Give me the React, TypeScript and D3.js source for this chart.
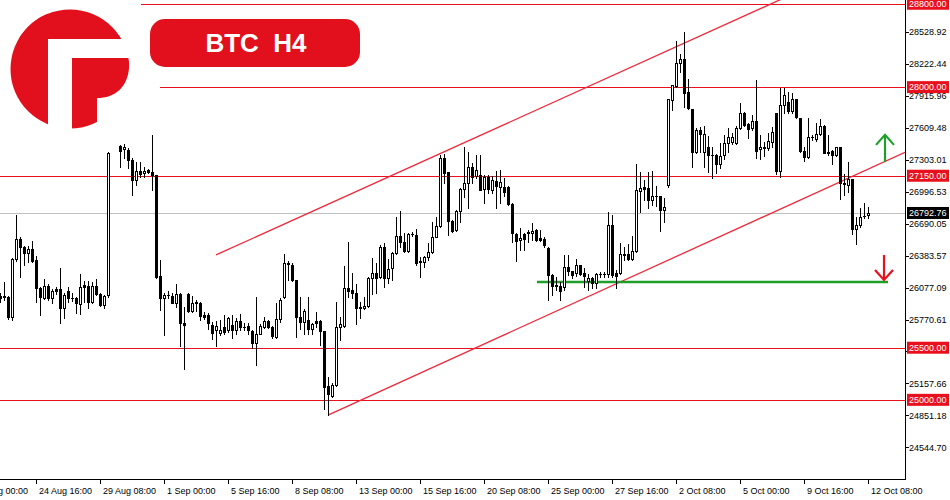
import React from 'react';
import * as d3 from 'd3';

// ---- OHLC data (BTC, H4 bars); null = missing bar ----
const opens: (number | null)[] = [
  25996, 25987, 25987, 25795, 26352, 26544, 26467, 26409, 26448, 26342,
  26073, 25977, 26092, 25977, 26064, 26064, 25881, 26044, 25977, 25977,
  25920, 26102, 26092, 25939, 26092, 26016, 25910, 26006, null, null,
  27436, 27408, 27398, 27302, 27110, 27196, 27177, 27206, 27187, 27158,
  26188, 25977, 26006, 25996, 25929, 26016, 25737, 26016, 25852, 25939,
  25929, 25814, 25814, 25718, 25670, 25641, 25699, 25670, 25718, 25670,
  25756, 25699, 25708, 25660, 25545, 25632, 25699, 25756, 25699, 25603,
  25776, 25987, 26304, 26294, 26150, 25795, 25747, 25766, 25680, 25756,
  25756, 25660, 25132, 25036, 25142, 25699, 25708, 26073, 26054, 26025,
  25891, 25881, 25900, 26169, 26217, 26179, 26467, 26169, 26265, 26409,
  26572, 26515, 26428, 26592, 26582, 26323, 26323, 26371, 26419, 26563,
  26668, 27321, 27187, 26716, 26630, 26812, 27024, 27081, 27235, 27148,
  27158, 27024, 27139, 27014, 27100, 27043, 27043, 27043, 26880, 26592,
  26534, 26592, 26601, 26601, 26630, 26553, 26544, 26457, 26198, 26102,
  26092, 26083, 26275, 26236, 26217, 26294, 26217, 26140, 26169, 26121,
  26208, 26208, 26208, 26678, 26217, 26217, 26390, 26400, 26352, 26428,
  27004, 27043, 27033, 26918, 26956, 26956, 26822, 27062, 27878, 28012,
  28233, 28272, 27955, 27792, 27379, 27590, 27379, 27427, 27350, 27350,
  27264, 27350, 27465, 27475, 27465, 27609, 27753, 27648, 27609, 27676,
  27408, 27417, 27417, 27475, 27753, 27196, 27830, 27859, 27772, 27888,
  27705, 27388, 27331, 27523, 27504, 27552, 27628, 27379, 27388, 27350,
  27427, 27081, 27062, 27120, 26640, 26678, 26764, 26774,
];
const highs: (number | null)[] = [
  26025, 26131, 25996, 26361, 26774, 26563, 26476, 26476, 26524, 26380,
  26083, 26160, 26112, 26064, 26083, 26265, 26025, 26083, 26025, 25987,
  26208, 26140, 26140, 26131, 26160, 26025, 26006, 27379, null, null,
  27446, 27456, 27417, 27321, 27283, 27283, 27235, 27216, 27542, 27158,
  26342, 26025, 26044, 26025, 26112, 26025, 25891, 26025, 25996, 25958,
  25939, 25843, 25833, 25747, 25756, 25766, 25814, 25795, 25814, 25785,
  25824, 25737, 25737, 25670, 25987, 25728, 25795, 25766, 25708, 25929,
  25977, 26400, 26332, 26313, 26150, 25987, 25872, 25987, 25737, 25843,
  25766, 25660, 25219, 25161, 25939, 25795, 26284, 26515, 26217, 26112,
  25939, 25987, 26179, 26361, 26313, 26486, 26505, 26352, 26419, 26755,
  26812, 26601, 26601, 26611, 26640, 26371, 26380, 26505, 26707, 26755,
  27350, 27360, 27187, 26726, 26822, 27033, 27427, 27379, 27273, 27350,
  27350, 27158, 27158, 27148, 27196, 27206, 27129, 27052, 26889, 26601,
  26649, 26601, 26630, 26697, 26640, 26630, 26563, 26467, 26208, 26179,
  26131, 26390, 26390, 26236, 26352, 26294, 26265, 26208, 26179, 26217,
  26227, 26227, 26803, 26774, 26246, 26505, 26467, 26496, 26572, 27264,
  27187, 27110, 27187, 27196, 27052, 26956, 26937, 27888, 28022, 28444,
  28320, 28531, 28080, 27792, 27609, 27619, 27628, 27532, 27427, 27360,
  27465, 27542, 27609, 27561, 27628, 27849, 27763, 27657, 27734, 28070,
  27542, 27475, 27561, 27619, 27753, 27993, 27993, 27955, 27945, 27888,
  27705, 27427, 27705, 27542, 27657, 27696, 27638, 27542, 27398, 27427,
  27427, 27168, 27283, 27120, 26755, 26841, 26889, 26851,
];
const lows: (number | null)[] = [
  25939, 25958, 25776, 25766, 26332, 26179, 26294, 26323, 26323, 25939,
  25814, 25968, 25958, 25929, 26016, 25737, 25785, 25939, 25948, 25833,
  25824, 25939, 25881, 25929, 26006, 25900, 25881, 25987, null, null,
  27235, 27321, 27225, 26966, 27062, 27139, 27139, 27177, 27014, 26169,
  25862, 25622, 25977, 25929, 25891, 25516, 25296, 25843, 25843, 25852,
  25766, 25776, 25680, 25584, 25516, 25622, 25632, 25651, 25593, 25632,
  25670, 25670, 25632, 25497, 25334, 25628, 25689, 25689, 25593, 25598,
  25747, 25977, 26150, 26140, 25603, 25680, 25632, 25632, 25632, 25699,
  25526, 24912, 24854, 25027, 25132, 25574, 25699, 25987, 25977, 25728,
  25785, 25872, 25891, 26016, 26025, 26169, 26083, 26121, 26150, 26400,
  26467, 26419, 26419, 26572, 26294, 26179, 26275, 26342, 26409, 26559,
  26659, 27081, 26582, 26611, 26620, 26707, 26947, 26841, 27081, 27129,
  27014, 26889, 26985, 26985, 26841, 26889, 26956, 26870, 26515, 26332,
  26438, 26438, 26515, 26534, 26524, 26524, 26467, 25958, 26006, 26054,
  25958, 26054, 26198, 26169, 26188, 26198, 26083, 26054, 26073, 26073,
  26179, 26179, 26179, 26179, 26073, 26208, 26342, 26342, 26342, 26419,
  26803, 26918, 26841, 26870, 26860, 26620, 26707, 27043, 27782, 28003,
  28147, 27811, 27792, 27235, 27369, 27379, 27235, 27187, 27129, 27177,
  27225, 27312, 27379, 27456, 27456, 27600, 27628, 27513, 27590, 27321,
  27312, 27340, 27398, 27427, 27168, 27139, 27753, 27753, 27753, 27705,
  27379, 27292, 27321, 27494, 27484, 27542, 27369, 27350, 27264, 27340,
  26928, 26966, 26995, 26592, 26496, 26659, 26745, 26745,
];
const closes: (number | null)[] = [
  25977, 25996, 25795, 26352, 26544, 26467, 26409, 26448, 26332, 26073,
  25987, 26092, 25977, 26044, 26044, 25881, 26006, 25977, 25973, 25929,
  26083, 26083, 25939, 26092, 26016, 25910, 25996, 27369, null, null,
  27388, 27427, 27302, 27110, 27196, 27168, 27196, 27187, 27158, 26179,
  25977, 26006, 26002, 25929, 26016, 25737, 25718, 25852, 25929, 25929,
  25804, 25795, 25737, 25641, 25708, 25670, 25651, 25785, 25670, 25756,
  25699, 25695, 25670, 25545, 25632, 25708, 25756, 25699, 25612, 25776,
  25958, 26313, 26313, 26150, 25795, 25747, 25852, 25680, 25728, 25737,
  25660, 25123, 25056, 25142, 25699, 25728, 26073, 26044, 26025, 25881,
  25881, 25900, 26169, 26217, 26169, 26467, 26169, 26256, 26409, 26572,
  26515, 26428, 26592, 26588, 26313, 26332, 26371, 26419, 26563, 26668,
  27321, 27177, 26716, 26620, 26812, 27024, 27081, 27235, 27139, 27206,
  27014, 27139, 27024, 27110, 27052, 27091, 26995, 26880, 26601, 26524,
  26553, 26544, 26611, 26620, 26534, 26534, 26486, 26198, 26092, 26092,
  26044, 26275, 26236, 26198, 26294, 26208, 26188, 26169, 26121, 26208,
  26204, 26212, 26678, 26198, 26188, 26400, 26400, 26352, 26428, 27014,
  27033, 27024, 26918, 26956, 26952, 26822, 26851, 27888, 28022, 28233,
  28272, 27945, 27801, 27379, 27590, 27552, 27552, 27350, 27346, 27264,
  27340, 27465, 27523, 27523, 27609, 27753, 27638, 27600, 27676, 27388,
  27427, 27427, 27484, 27571, 27196, 27830, 27926, 27772, 27888, 27715,
  27388, 27331, 27523, 27519, 27552, 27628, 27369, 27369, 27350, 27427,
  27081, 27072, 27120, 26640, 26678, 26755, 26768, 26792.76,
];

// ---- axes ----
const timeLabels = [
  '22 Aug 00:00', '24 Aug 16:00', '29 Aug 08:00', '1 Sep 00:00', '5 Sep 16:00',
  '8 Sep 08:00', '13 Sep 00:00', '15 Sep 16:00', '20 Sep 08:00', '25 Sep 00:00',
  '27 Sep 16:00', '2 Oct 08:00', '5 Oct 00:00', '9 Oct 16:00', '12 Oct 08:00',
];
const timeLabelBars = [-7, 9, 25, 41, 57, 73, 89, 105, 121, 137, 153, 169, 185, 201, 217];
const priceTicks = [
  '24544.70', '24851.18', '25157.66', '25464.14', '25770.61', '26077.09', '26383.57',
  '26690.05', '26996.53', '27303.01', '27609.48', '27915.96', '28222.44', '28528.92',
];

// ---- drawn objects ----
const levelPrices = [28800, 28000, 27150, 25500, 25000];
const levelStartBars = [35.25, 40, -1, -1, -1];
const currentPrice = 26792.76;
const supportPrice = 26131;
const supportBars = [134.25, 222];
const upperChannel = [{ bar: 54, price: 26390 }, { bar: 195, price: 28838 }];
const lowerChannel = [{ bar: 82, price: 24854 }, { bar: 217, price: 27213 }];
const upArrow = { bar: 221.25, from: 27283, to: 27542 };
const downArrow = { bar: 221, from: 26390, to: 26150 };

const RED = '#e8101c';
const BRAND = '#e20f1c';
const FONT = '"Liberation Sans", Arial, sans-serif';

export default function App() {
  const W = 950, H = 500;
  const plotRight = 905, plotBottom = 479;
  const x = d3.scaleLinear().domain([0, 217]).range([0, 868]);
  const y = d3.scaleLinear().domain([24544.70, 28528.92]).range([447.3, 32]);

  const candles: React.ReactNode[] = [];
  opens.forEach((o, i) => {
    const h = highs[i], l = lows[i], c = closes[i];
    if (o == null || h == null || l == null || c == null) return;
    const cx = Math.round(x(i));
    const yo = Math.round(y(o)), yc = Math.round(y(c));
    const yh = Math.round(y(h)), yl = Math.round(y(l));
    const top = Math.min(yo, yc), bot = Math.max(yo, yc);
    const bull = c > o;
    candles.push(
      <g key={i}>
        <rect x={cx} y={yh} width={1} height={yl - yh + 1} fill="#000" />
        <rect x={cx - 1} y={top} width={3} height={bot - top + 1} fill="#000" />
        {bull && bot - top - 1 > 0 && (
          <rect x={cx} y={top + 1} width={1} height={bot - top - 1} fill="#fff" />
        )}
      </g>
    );
  });

  const chanLine = (pts: { bar: number; price: number }[], extend: boolean) => {
    const x1 = x(pts[0].bar), y1 = y(pts[0].price);
    const x2 = x(pts[1].bar), y2 = y(pts[1].price);
    const xe = extend ? plotRight : x2;
    const ye = y1 + ((y2 - y1) / (x2 - x1)) * (xe - x1);
    return <line x1={x1} y1={y1} x2={xe} y2={ye} stroke="#f2283a" strokeWidth={1.3} />;
  };

  const priceBox = (p: number, label: string, fill: string, key: string) => {
    const yy = y(p);
    return (
      <g key={key}>
        <rect x={907} y={yy - 6} width={42} height={12} fill={fill} />
        <text x={909} y={yy + 3.3} fill="#fff" fontSize={9} fontFamily={FONT}>{label}</text>
      </g>
    );
  };

  // a tick label fully covered by a price box is not visible in the original
  const boxPrices = [...levelPrices, currentPrice];
  const hidden = (t: string) => boxPrices.some((p) => Math.abs(y(p) - y(+t)) < 6);

  const ax = x(upArrow.bar), ay1 = y(upArrow.from), ay2 = y(upArrow.to);
  const dx = x(downArrow.bar), dy1 = y(downArrow.from), dy2 = y(downArrow.to);

  return (
    <svg width={W} height={H} style={{ position: 'absolute', left: 0, top: 0, background: '#fff' }}>
      <defs>
        <clipPath id="plot"><rect x={0} y={0} width={plotRight} height={plotBottom} /></clipPath>
        <clipPath id="logo"><circle cx={70} cy={69} r={59.5} /></clipPath>
      </defs>
      <rect x={0} y={0} width={W} height={H} fill="#fff" />

      <g clipPath="url(#plot)">
        {/* current price line */}
        <line x1={0} x2={plotRight} y1={Math.round(y(currentPrice)) + 0.5} y2={Math.round(y(currentPrice)) + 0.5} stroke="#c0c0c0" strokeWidth={1} />
        {/* horizontal levels */}
        {levelPrices.map((p, i) => (
          <line key={p} x1={Math.max(0, x(levelStartBars[i]))} x2={plotRight}
            y1={Math.round(y(p)) + 0.5} y2={Math.round(y(p)) + 0.5} stroke={RED} strokeWidth={1} />
        ))}
        {/* channel */}
        {chanLine(upperChannel, true)}
        {chanLine(lowerChannel, true)}
        {/* support */}
        <line x1={x(supportBars[0])} x2={x(supportBars[1])} y1={y(supportPrice)} y2={y(supportPrice)} stroke="#1f9e2a" strokeWidth={2.5} />
        <g shapeRendering="crispEdges">{candles}</g>
        {/* arrows */}
        <g stroke="#1f9e2a" strokeWidth={2.2} fill="none" strokeLinecap="butt">
          <line x1={ax} y1={ay1} x2={ax} y2={ay2} />
          <polyline points={`${ax - 9},${ay2 + 10} ${ax},${ay2} ${ax + 9},${ay2 + 10}`} />
        </g>
        <g stroke={RED} strokeWidth={2.2} fill="none">
          <line x1={dx} y1={dy1} x2={dx} y2={dy2} />
          <polyline points={`${dx - 9},${dy2 - 10} ${dx},${dy2} ${dx + 9},${dy2 - 10}`} />
        </g>
      </g>

      {/* frame */}
      <g shapeRendering="crispEdges">
        <line x1={plotRight + 0.5} x2={plotRight + 0.5} y1={0} y2={plotBottom + 1} stroke="#000" />
        <line x1={0} x2={plotRight + 1} y1={plotBottom + 0.5} y2={plotBottom + 0.5} stroke="#000" />
        {timeLabelBars.map((b) => (
          <line key={b} x1={x(b) + 0.5} x2={x(b) + 0.5} y1={plotBottom} y2={plotBottom + 5} stroke="#000" />
        ))}
        {priceTicks.map((t) => (
          <line key={t} x1={plotRight} x2={plotRight + 4} y1={Math.round(y(+t)) + 0.5} y2={Math.round(y(+t)) + 0.5} stroke="#000" />
        ))}
      </g>
      {timeLabels.map((t, i) => (
        <text key={t} x={x(timeLabelBars[i]) + 3} y={494} fontSize={9} fontFamily={FONT} fill="#000">{t}</text>
      ))}
      {priceTicks.filter((t) => !hidden(t)).map((t) => (
        <text key={t} x={909} y={y(+t) + 3.3} fontSize={9} fontFamily={FONT} fill="#000">{t}</text>
      ))}
      {levelPrices.map((p) => priceBox(p, p.toFixed(2), RED, 'lv' + p))}
      {priceBox(currentPrice, currentPrice.toFixed(2), '#000', 'cur')}

      {/* logo */}
      <g clipPath="url(#logo)" fill={BRAND}>
        <rect x={0} y={0} width={48} height={140} />
        <rect x={0} y={0} width={125} height={39} />
        <path d="M72,58 L135,58 L129,58 C131,82 120,96 100,98 L97,98 L97,140 L72,140 Z" />
      </g>
      {/* title pill */}
      <rect x={150} y={19} width={210} height={48} rx={15} ry={15} fill={BRAND} />
      <text x={256} y={52} textAnchor="middle" fill="#fff" fontSize={26} fontWeight="bold"
        fontFamily={FONT} style={{ whiteSpace: 'pre' }}>{'BTC  H4'}</text>
    </svg>
  );
}
